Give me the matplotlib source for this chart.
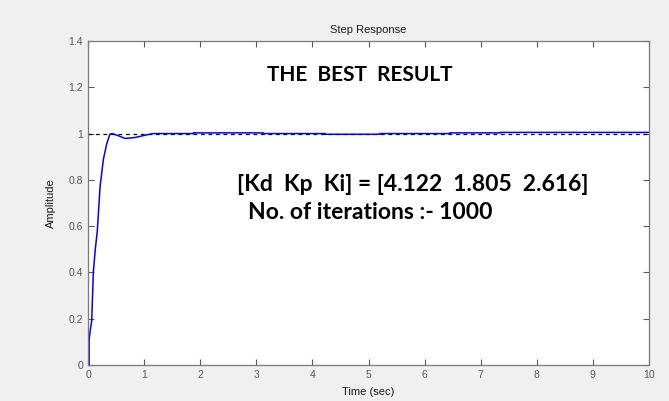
import matplotlib.pyplot as plt

# step response samples
t = [0, 0.02, 0.02, 0.04, 0.066, 0.095, 0.13, 0.166, 0.215, 0.245, 0.275, 0.335, 0.39,
     0.43, 0.55, 0.66, 0.84, 1.0, 1.16, 1.3, 1.88, 1.88, 3.12, 3.12, 4.22, 4.22,
     5.2, 5.2, 6.45, 6.45, 7.35, 7.35, 10.0]
y = [0, 0, 0.11, 0.15, 0.19, 0.40, 0.50, 0.58, 0.77, 0.83, 0.89, 0.957, 0.997,
     1.0, 0.99, 0.979, 0.983, 0.992, 1.0, 1.0, 1.0, 1.003, 1.003, 1.0, 1.0, 0.997,
     0.997, 1.0, 1.0, 1.003, 1.003, 1.005, 1.005]

final_value = 1.0
x_ticks = list(range(0, 11))
y_ticks = [0, 0.2, 0.4, 0.6, 0.8, 1, 1.2, 1.4]
y_tick_labels = ['0', '0.2', '0.4', '0.6', '0.8', '1', '1.2', '1.4']

plt.rcParams['font.family'] = ['Liberation Sans', 'DejaVu Sans']

fig = plt.figure(figsize=(6.69, 4.01), dpi=100, facecolor='#f0f0f0')
ax = fig.add_axes([88 / 669, 1 - 365 / 401, 561 / 669, 324 / 401])

ax.plot([0, 10], [final_value, final_value], color='black', linestyle=(0, (3, 3)), linewidth=0.9)
ax.plot(t, y, color='#0000ff', linewidth=1.1)

ax.set_xlim(0, 10)
ax.set_ylim(0, 1.4)
ax.set_xticks(x_ticks)
ax.set_yticks(y_ticks)
ax.set_yticklabels(y_tick_labels)
ax.tick_params(direction='in', top=True, right=True, length=4, labelsize=7.5,
               colors='#5a5a5a', labelcolor='#555555', width=0.8)
for s in ax.spines.values():
    s.set_color('#7a7a7a')
    s.set_linewidth(0.9)

ax.set_title('Step Response', fontsize=8, color='#1a1a1a', pad=6)
ax.set_xlabel('Time (sec)', fontsize=8, color='#1a1a1a', labelpad=5)
ax.set_ylabel('Amplitude', fontsize=8, color='#1a1a1a', labelpad=9)

ax.text(4.84, 1.253, 'THE  BEST  RESULT', fontsize=15, fontweight='bold',
        family='Lato', ha='center', va='center', color='black')
ax.text(2.66, 0.778, '[Kd  Kp  Ki] = [4.122  1.805  2.616]', fontsize=16.5,
        fontweight='bold', family='Lato', ha='left', va='center', color='black')
ax.text(2.86, 0.657, 'No. of iterations :- 1000', fontsize=16.5,
        fontweight='bold', family='Lato', ha='left', va='center', color='black')

plt.savefig('out.png', dpi=100, facecolor=fig.get_facecolor())
